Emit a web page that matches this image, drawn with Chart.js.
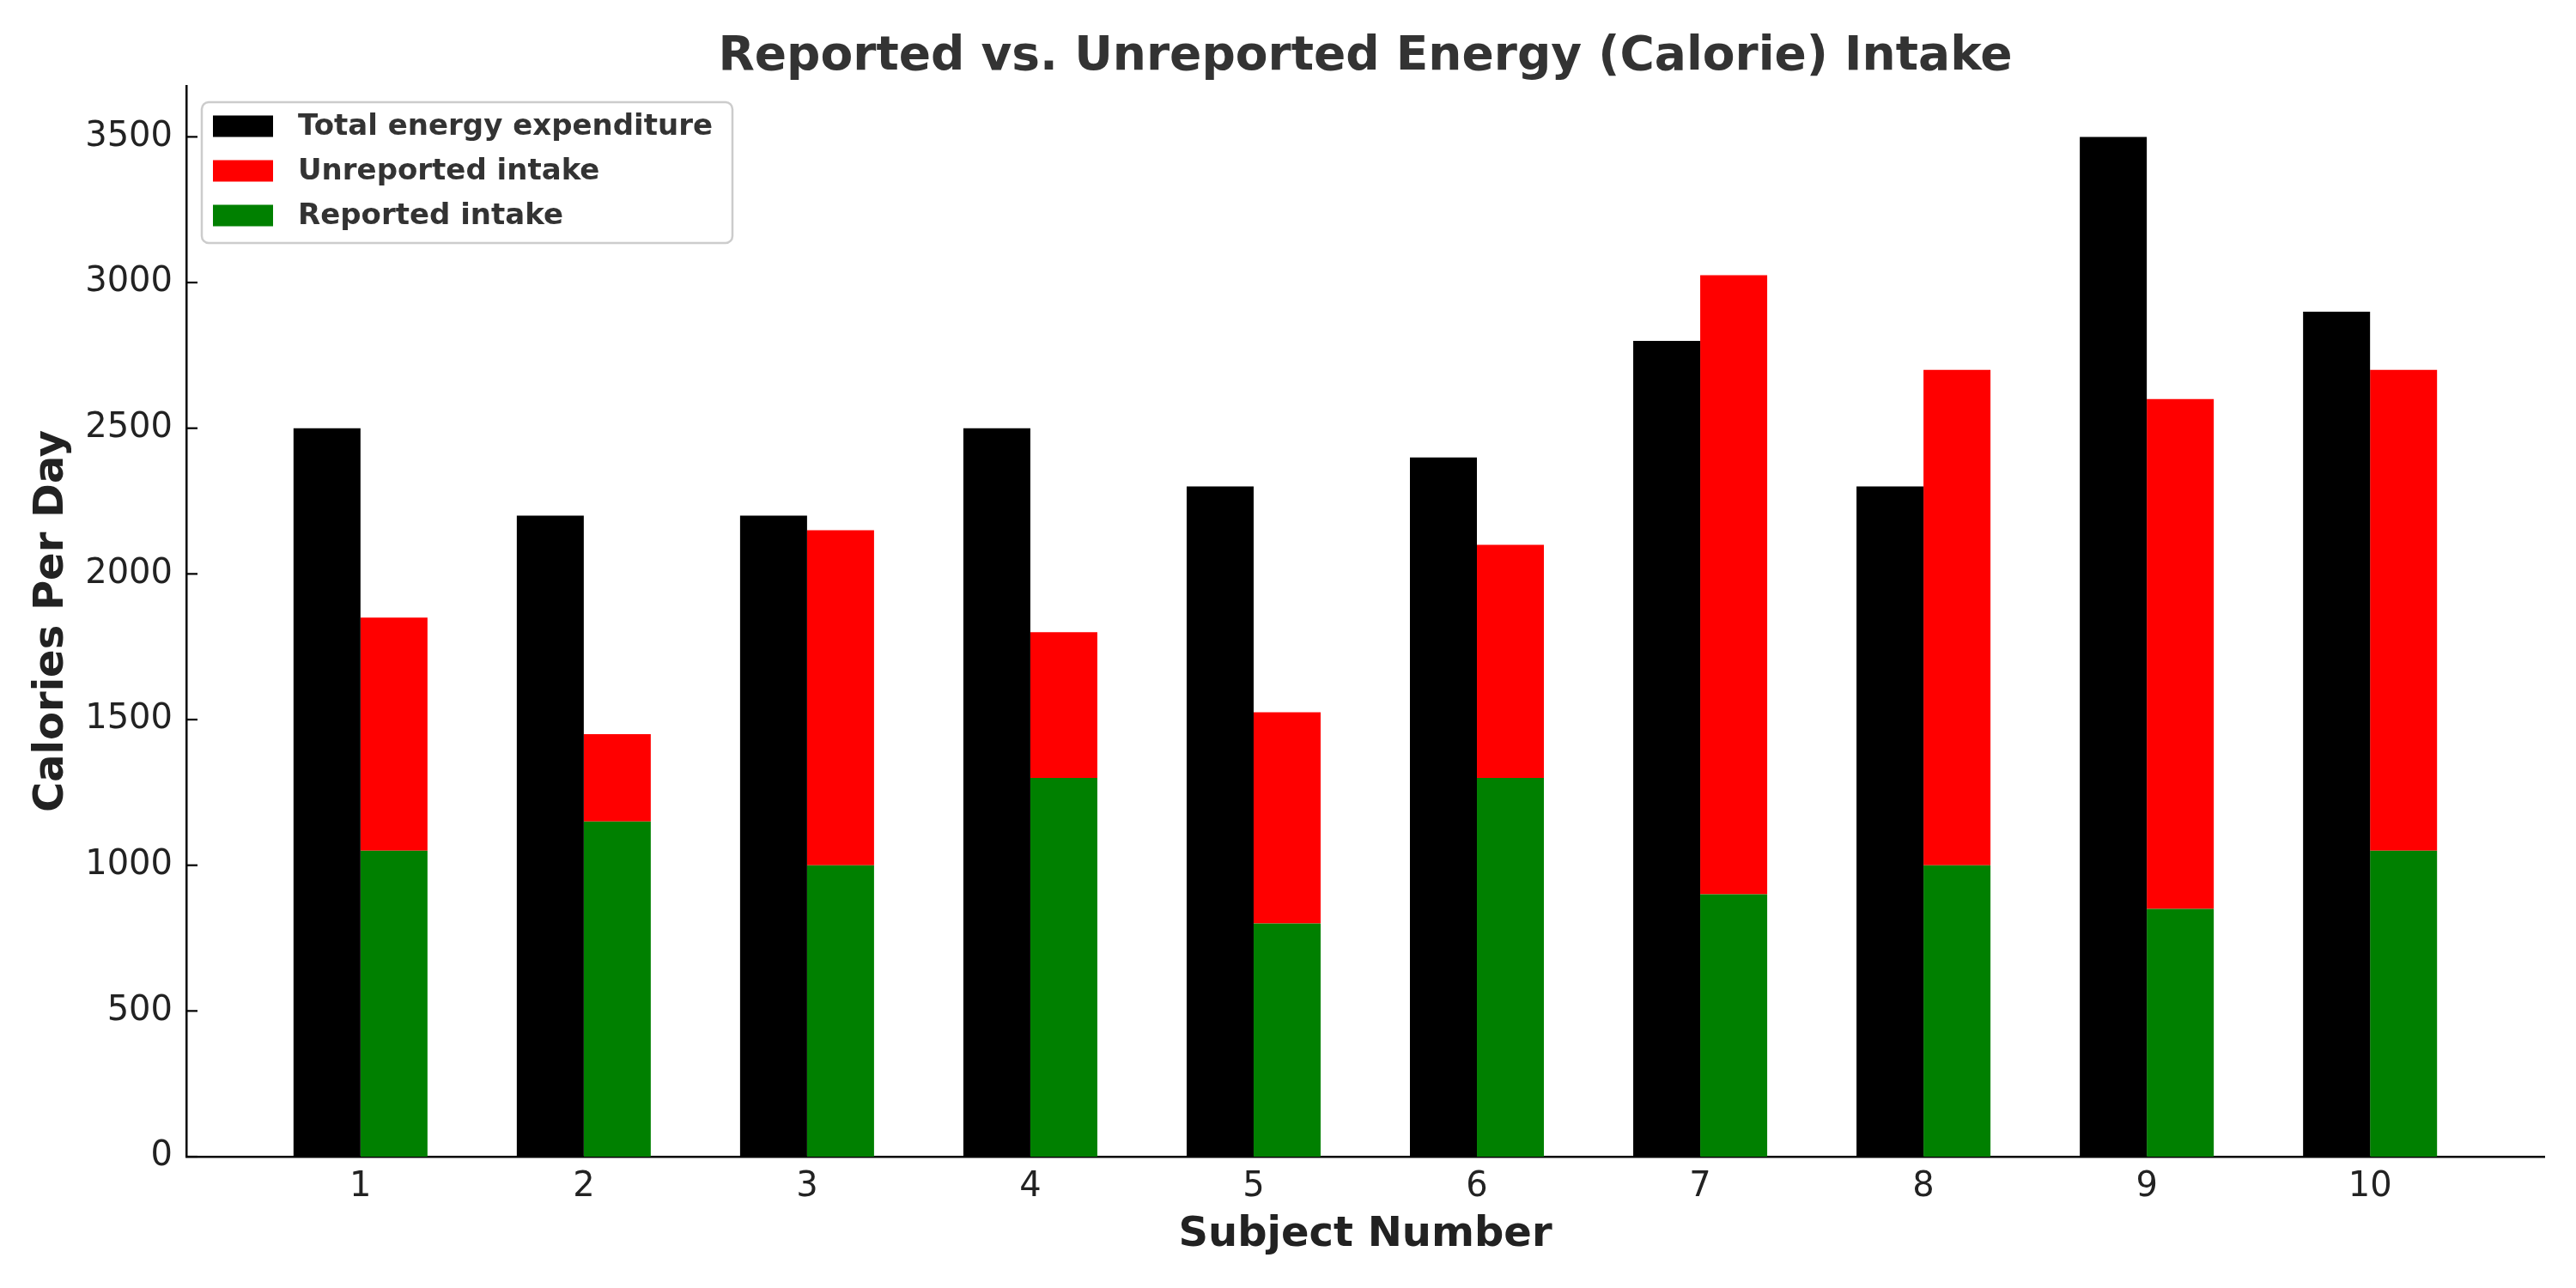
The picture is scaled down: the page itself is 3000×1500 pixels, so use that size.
<!DOCTYPE html>
<html>
<head>
<meta charset="utf-8">
<script src="https://cdn.jsdelivr.net/npm/chart.js@4.4.1/dist/chart.umd.min.js"></script>
<style>
  body { margin: 0; background: #fff; }
  #chart { display: block; }
</style>
</head>
<body>
<canvas id="chart" width="3000" height="1500"></canvas>
<script>
const subjects = [1, 2, 3, 4, 5, 6, 7, 8, 9, 10];
const totalExpenditure = [2500, 2200, 2200, 2500, 2300, 2400, 2800, 2300, 3500, 2900];
const reportedIntake = [1050, 1150, 1000, 1300, 800, 1300, 900, 1000, 850, 1050];
const unreportedIntake = [800, 300, 1150, 500, 725, 800, 2125, 1700, 1750, 1650];
const yTicks = [0, 500, 1000, 1500, 2000, 2500, 3000, 3500];

const FONT = "'DejaVu Sans', sans-serif";

function toPoints(values) {
    return subjects.map((s, i) => ({ x: s, y: values[i] }));
}

// matplotlib style ticks pointing into the plot
const inwardTicks = {
    id: 'inwardTicks',
    afterDatasetsDraw(chart) {
        const ctx = chart.ctx;
        const y = chart.scales.y;
        ctx.save();
        ctx.strokeStyle = '#000';
        ctx.lineWidth = 2.2;
        y.ticks.forEach(t => {
            const py = y.getPixelForValue(t.value);
            ctx.beginPath();
            ctx.moveTo(y.right, py);
            ctx.lineTo(y.right + 13, py);
            ctx.stroke();
        });
        ctx.restore();
    }
};

// legend box inside the plot, upper left
const boxLegend = {
    id: 'boxLegend',
    afterDraw(chart) {
        const ctx = chart.ctx;
        const ds = chart.data.datasets;
        const order = [0, 2, 1];
        ctx.save();
        ctx.fillStyle = 'rgba(255,255,255,0.8)';
        ctx.strokeStyle = '#cccccc';
        ctx.lineWidth = 2.5;
        ctx.beginPath();
        ctx.roundRect(235, 119, 618, 164, 8);
        ctx.fill();
        ctx.stroke();
        ctx.font = "bold 34px " + FONT;
        ctx.textBaseline = 'middle';
        ctx.textAlign = 'left';
        order.forEach((di, row) => {
            const cy = 147 + row * 52;
            ctx.fillStyle = ds[di].backgroundColor;
            ctx.fillRect(248, cy - 12.5, 70, 25);
            ctx.fillStyle = '#333333';
            ctx.fillText(ds[di].label, 347, cy + 1);
        });
        ctx.restore();
    }
};

const ctx = document.getElementById('chart').getContext('2d');
new Chart(ctx, {
    type: 'bar',
    data: {
        datasets: [
            { label: 'Total energy expenditure', data: toPoints(totalExpenditure), backgroundColor: '#000000', stack: 'total' },
            { label: 'Reported intake', data: toPoints(reportedIntake), backgroundColor: '#008000', stack: 'intake' },
            { label: 'Unreported intake', data: toPoints(unreportedIntake), backgroundColor: '#ff0000', stack: 'intake' }
        ]
    },
    options: {
        responsive: false,
        animation: false,
        devicePixelRatio: 1,
        layout: { padding: { left: 0, right: 37, top: 0, bottom: 0 } },
        datasets: {
            bar: { categoryPercentage: 0.6, barPercentage: 1.0, borderWidth: 0 }
        },
        plugins: {
            legend: { display: false },
            tooltip: { enabled: false },
            title: {
                display: true,
                fullSize: false,
                text: 'Reported vs. Unreported Energy (Calorie) Intake',
                color: '#333333',
                font: { family: FONT, size: 55, weight: 'bold' },
                padding: { top: 34, bottom: 0 }
            }
        },
        scales: {
            x: {
                type: 'linear',
                stacked: true,
                offset: false,
                min: 0.22,
                max: 10.78,
                afterBuildTicks: s => { s.ticks = subjects.map(v => ({ value: v })); },
                afterFit: s => { s.height = 153; },
                grid: { display: false, drawTicks: false, offset: false },
                border: { display: true, color: '#000', width: 2.5 },
                ticks: {
                    color: '#222222',
                    font: { family: FONT, size: 40 },
                    padding: 12,
                    callback: v => String(v)
                },
                title: {
                    display: true,
                    text: 'Subject Number',
                    color: '#222222',
                    font: { family: FONT, size: 48, weight: 'bold' },
                    padding: { top: 0, bottom: 33 }
                }
            },
            y: {
                stacked: true,
                min: 0,
                max: 3675,
                afterBuildTicks: s => { s.ticks = yTicks.map(v => ({ value: v })); },
                afterFit: s => { s.width = 217; },
                grid: { display: false, drawTicks: false },
                border: { display: true, color: '#000', width: 2.5 },
                ticks: {
                    color: '#222222',
                    font: { family: FONT, size: 40 },
                    padding: 16,
                    callback: v => String(v)
                },
                title: {
                    display: true,
                    text: 'Calories Per Day',
                    color: '#222222',
                    font: { family: FONT, size: 48, weight: 'bold' },
                    padding: { top: 32, bottom: 0 }
                }
            }
        }
    },
    plugins: [inwardTicks, boxLegend]
});
</script>
</body>
</html>
